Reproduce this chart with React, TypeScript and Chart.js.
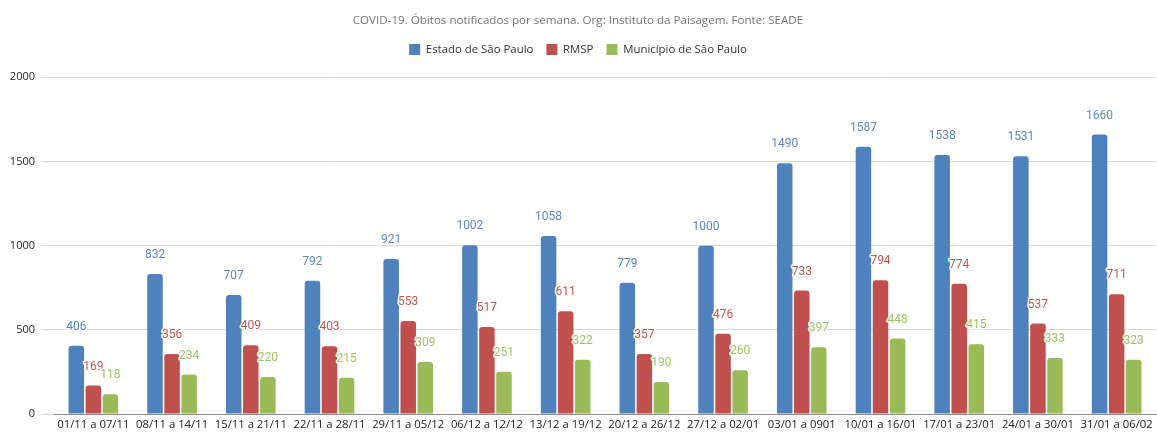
import React, { useEffect, useRef } from 'react';
import { Chart, registerables } from 'chart.js';

Chart.register(...registerables);

const titleText = 'COVID-19. Óbitos notificados por semana. Org: Instituto da Paisagem. Fonte: SEADE';
const categories = [
  '01/11 a 07/11', '08/11 a 14/11', '15/11 a 21/11', '22/11 a 28/11', '29/11 a 05/12',
  '06/12 a 12/12', '13/12 a 19/12', '20/12 a 26/12', '27/12 a 02/01', '03/01 a 0901',
  '10/01 a 16/01', '17/01 a 23/01', '24/01 a 30/01', '31/01 a 06/02',
];
const seriesNames = ['Estado de São Paulo', 'RMSP', 'Município de São Paulo'];
const estadoSP = [406, 832, 707, 792, 921, 1002, 1058, 779, 1000, 1490, 1587, 1538, 1531, 1660];
const rmsp = [169, 356, 409, 403, 553, 517, 611, 357, 476, 733, 794, 774, 537, 711];
const municipioSP = [118, 234, 220, 215, 309, 251, 322, 190, 260, 397, 448, 415, 333, 323];
const yTicks = [0, 500, 1000, 1500, 2000];

const barColors = ['#4f81bd', '#c0504d', '#9bbb59'];
const labelColors = ['#5b89c2', '#c05955', '#a2c162'];

const dataLabelPlugin = {
  id: 'dataLabels',
  afterDatasetsDraw(chart: any) {
    const ctx = chart.ctx;
    ctx.save();
    ctx.font = '12px Roboto';
    ctx.textAlign = 'center';
    ctx.textBaseline = 'middle';
    ctx.lineJoin = 'round';
    chart.data.datasets.forEach((ds: any, di: number) => {
      const meta = chart.getDatasetMeta(di);
      meta.data.forEach((bar: any, i: number) => {
        const txt = String(ds.data[i]);
        const x = bar.x;
        const y = bar.y - 19;
        ctx.strokeStyle = '#ffffff';
        ctx.lineWidth = 3;
        ctx.strokeText(txt, x, y);
        ctx.fillStyle = labelColors[di];
        ctx.fillText(txt, x, y);
      });
    });
    ctx.restore();
  },
};

const legendSpacePlugin = {
  id: 'legendSpace',
  beforeInit(chart: any) {
    const legend = chart.legend;
    if (!legend) return;
    const origFit = legend.fit;
    legend.fit = function () {
      origFit.call(this);
      this.height += 12;
    };
  },
};

export default function App() {
  const ref = useRef<HTMLCanvasElement>(null);
  useEffect(() => {
    document.body.style.margin = '0';
    const chart = new Chart(ref.current as HTMLCanvasElement, {
      type: 'bar',
      data: {
        labels: categories,
        datasets: [estadoSP, rmsp, municipioSP].map((d, i) => ({
          label: seriesNames[i],
          data: d,
          backgroundColor: barColors[i],
          borderRadius: { topLeft: 3, topRight: 3, bottomLeft: 0, bottomRight: 0 },
          borderSkipped: 'bottom',
          barPercentage: 0.91,
          categoryPercentage: 0.65,
        })),
      },
      options: {
        responsive: false,
        animation: false,
        layout: { padding: { top: 0, right: 1, bottom: 0, left: 0 } },
        plugins: {
          title: {
            display: true,
            text: titleText,
            color: '#757575',
            font: { family: 'Open Sans', size: 11.6, weight: 'normal' },
            padding: { top: 14, bottom: 3 },
          },
          legend: {
            display: true,
            labels: {
              boxWidth: 11,
              boxHeight: 11,
              padding: 13,
              color: '#333333',
              font: { family: 'Open Sans', size: 11.4 },
            },
          },
          tooltip: { enabled: false },
        },
        scales: {
          x: {
            afterFit: (axis: any) => { axis.height = 19; },
            grid: { display: false, drawTicks: false },
            border: { display: true, color: '#8a8a8a', width: 1 },
            ticks: {
              color: '#222222',
              font: { family: 'Open Sans', size: 11.3 },
              maxRotation: 0,
              autoSkip: false,
              padding: 4,
            },
          },
          y: {
            min: 0,
            max: 2000,
            afterFit: (axis: any) => { axis.width = 54; },
            afterBuildTicks: (axis: any) => { axis.ticks = yTicks.map((v) => ({ value: v })); },
            grid: { color: '#d9d9d9', tickLength: 12, drawTicks: true },
            border: { display: false },
            ticks: {
              color: '#222222',
              font: { family: 'Open Sans', size: 11 },
              padding: 7,
              callback: (v: any) => String(v),
            },
          },
        },
      },
      plugins: [dataLabelPlugin, legendSpacePlugin],
    });
    return () => chart.destroy();
  }, []);
  return (
    <div style={{ width: 1157, height: 433 }}>
      <canvas ref={ref} width={1157} height={433} />
    </div>
  );
}
